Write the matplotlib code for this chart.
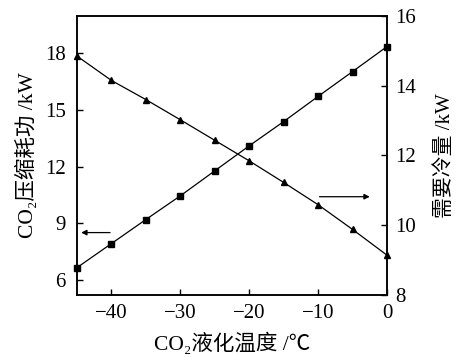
import matplotlib
matplotlib.use("Agg")
import matplotlib.pyplot as plt

plt.rcParams['font.family'] = ['Liberation Serif', 'Noto Sans CJK SC', 'DejaVu Sans']

# CO2 liquefaction temperature (deg C)
temps = [-45, -40, -35, -30, -25, -20, -15, -10, -5, 0]
# compression power, left axis (kW)
power = [6.67, 7.94, 9.21, 10.46, 11.78, 13.10, 14.38, 15.71, 17.02, 18.34]
# required cooling, right axis (kW)
cooling = [14.85, 14.15, 13.60, 13.02, 12.43, 11.84, 11.22, 10.58, 9.87, 9.13]

left_ticks = [6, 9, 12, 15, 18]
right_ticks = [8, 10, 12, 14, 16]
x_ticks = [-40, -30, -20, -10, 0]

fig = plt.figure(figsize=(4.6, 3.57), dpi=100)
ax = fig.add_axes([0.1674, 0.175, 0.6739, 0.780])
ax2 = ax.twinx()

ax.plot(temps, power, color='black', lw=0.9, marker='s', ms=4, clip_on=False, zorder=5)
ax2.plot(temps, cooling, color='black', lw=0.9, marker='^', ms=5, clip_on=False, zorder=5)

ax.set_xlim(-45, 0)
ax.set_ylim(5.25, 19.95)
ax2.set_ylim(8, 16)
ax.set_xticks(x_ticks)
ax.set_xticklabels(['\u2212' + str(-t) if t < 0 else str(t) for t in x_ticks])
ax.set_yticks(left_ticks)
ax2.set_yticks(right_ticks)

ax.tick_params(axis='x', direction='in', length=4, width=1, labelsize=15, pad=7)
ax.tick_params(axis='y', direction='in', length=4, width=1, labelsize=15, pad=8, right=False)
ax2.tick_params(axis='y', direction='in', length=4, width=1, labelsize=15, pad=6)
for a in (ax, ax2):
    for s in a.spines.values():
        s.set_linewidth(1.1)

ax.set_xlabel('CO\u2082液化温度 /℃', fontsize=15.5, labelpad=7)
ax.set_ylabel('CO\u2082压缩耗功 /kW', fontsize=15.5, labelpad=5)
ax2.set_ylabel('需要冷量 /kW', fontsize=15, labelpad=14)

# pointer arrows to the matching axes
ax.annotate('', xy=(-44.4, 8.52), xytext=(-40.2, 8.52),
            arrowprops=dict(arrowstyle='-|>', color='black', lw=0.9,
                            mutation_scale=8, shrinkA=0, shrinkB=0))
ax2.annotate('', xy=(-2.5, 10.81), xytext=(-9.8, 10.81),
             arrowprops=dict(arrowstyle='-|>', color='black', lw=0.9,
                             mutation_scale=8, shrinkA=0, shrinkB=0))

fig.savefig('out.png', dpi=100)
